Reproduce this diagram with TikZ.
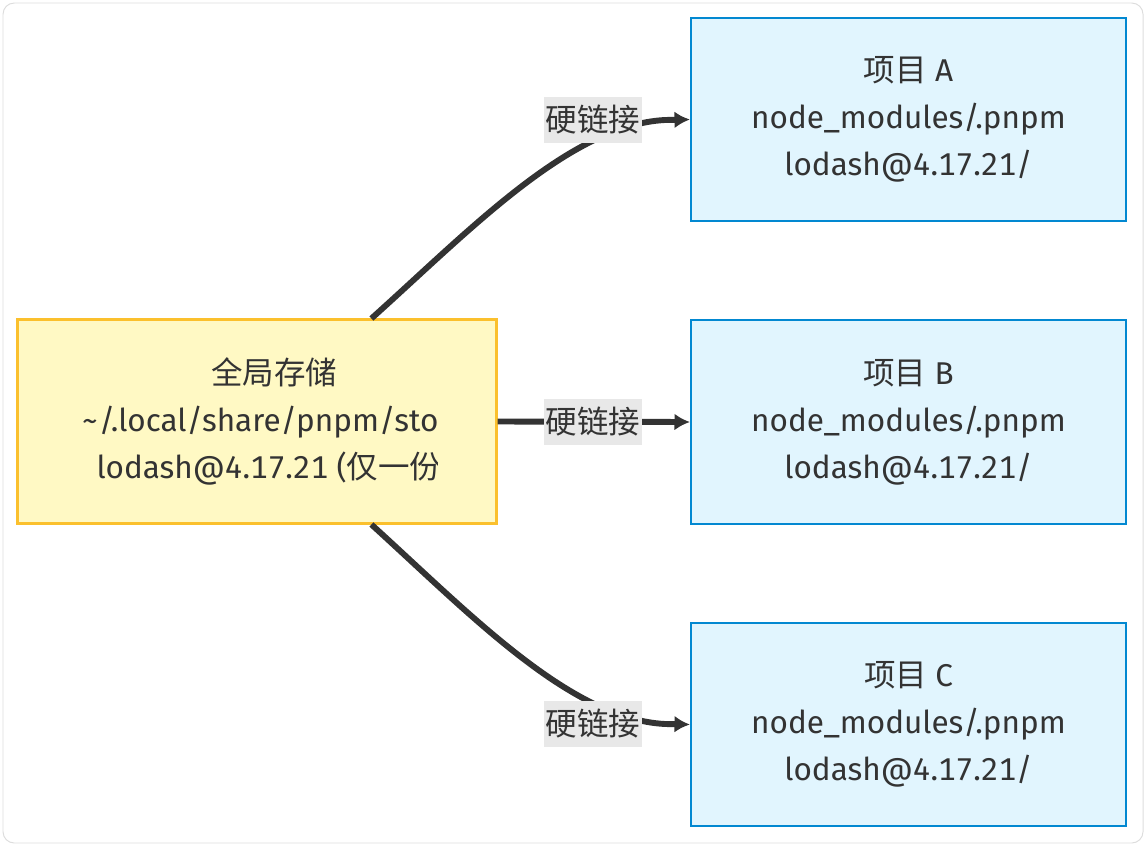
\documentclass[tikz,border=0pt]{standalone}
\usepackage{fontspec}
\setmainfont{Fira Sans}[Numbers=Monospaced]
\newfontfamily\cjk{Noto Sans CJK SC}
\usetikzlibrary{arrows.meta}
\usetikzlibrary{positioning}
\definecolor{storefill}{HTML}{FFF9C4}
\definecolor{storeline}{HTML}{FBC02D}
\definecolor{projfill}{HTML}{E1F5FE}
\definecolor{projline}{HTML}{0288D1}
\definecolor{textgray}{HTML}{333333}
\definecolor{edgegray}{HTML}{333333}
\definecolor{labelbg}{HTML}{E8E8E8}
\definecolor{framegray}{HTML}{DDDDDD}

\begin{document}
\begin{tikzpicture}[x=0.025cm,y=-0.025cm,>={Latex[length=11pt,width=12pt]},
    box/.style={rectangle,inner sep=0pt,minimum height=5.075cm},
    storebox/.style={box,fill=storefill,draw=storeline,line width=2.1pt,minimum width=11.95cm},
    projbox/.style={box,fill=projfill,draw=projline,line width=1.4pt,minimum width=10.875cm,
      align=center,text=textgray,font=\fontsize{22.4}{33.5}\selectfont},
    boxtext/.style={align=center,text=textgray,font=\fontsize{22.4}{33.5}\selectfont},
    linklabel/.style={fill=labelbg,text=textgray,inner sep=1pt,minimum height=1.15cm,
      font=\fontsize{22.4}{25}\cjk},
    link/.style={->,draw=edgegray,line width=4.2pt}]
      \useasboundingbox (0,0) rectangle (1147,848);
      \draw[framegray,line width=0.7pt,rounded corners=8pt] (3,3) rectangle (1143,843);

      % global store
      \node[storebox] (store) at (257,421.5) {};
      \begin{scope}
        \clip (18,320) rectangle (437,523);
        \node[boxtext] (storetext) at (274,421.5)
          {{\cjk 全局存储}\\\textasciitilde/.local/share/pnpm/store\\lodash@4.17.21 ({\cjk 仅一份})};
      \end{scope}

      % projects
      \node[projbox] (projA) at (908.5,119.5) {{\cjk 项目} A\\node\_modules/.pnpm\\lodash@4.17.21/};
      \node[projbox] (projB) at (908.5,422)   {{\cjk 项目} B\\node\_modules/.pnpm\\lodash@4.17.21/};
      \node[projbox] (projC) at (908.5,724.5) {{\cjk 项目} C\\node\_modules/.pnpm\\lodash@4.17.21/};

      % hard links
      \coordinate (eA) at (665,120);
      \coordinate (eC) at (665,724);
      \draw[link] (store.42) .. controls (470,230) and (570,125) .. (eA) -- (projA.west);
      \draw[link] (store.east) -- (projB.west);
      \draw[link] (store.-42) .. controls (470,614) and (570,719) .. (eC) -- (projC.west);

      \node[linklabel] (labelA) at (593,120) {硬链接};
      \node[linklabel] (labelB) at (593,422) {硬链接};
      \node[linklabel] (labelC) at (593,724) {硬链接};
\end{tikzpicture}
\end{document}
